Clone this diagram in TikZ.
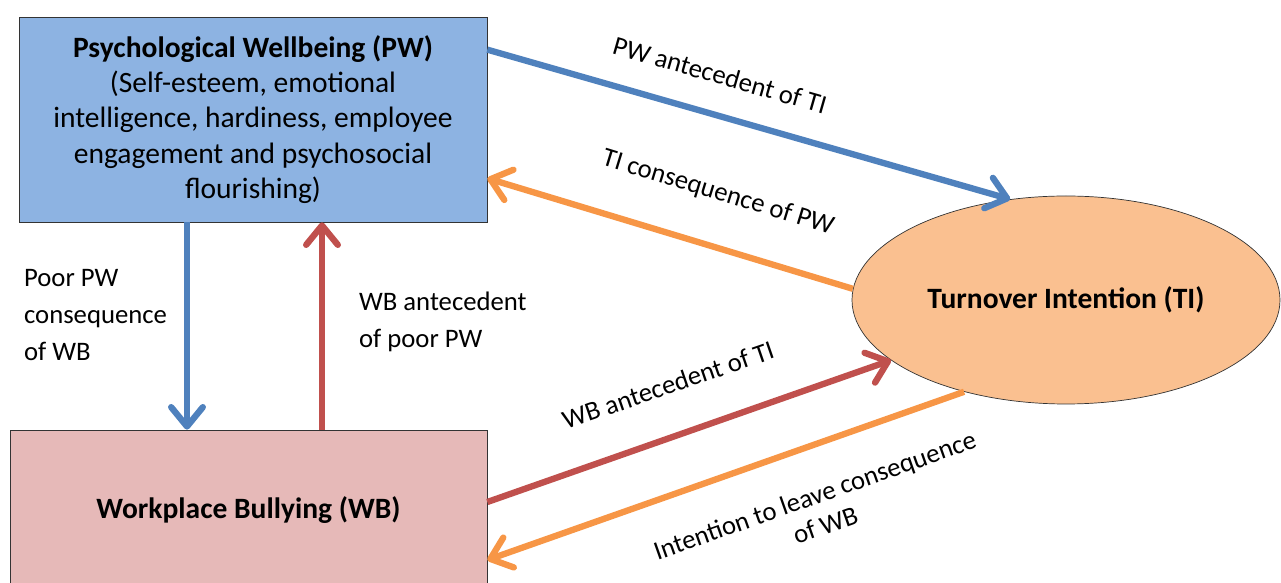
\documentclass[tikz,border=0pt]{standalone}
\usepackage{fontspec}
\setmainfont{Carlito}
\usetikzlibrary{shapes.geometric,arrows.meta}

\definecolor{pwfill}{HTML}{8DB3E2}
\definecolor{wbfill}{HTML}{E6B9B8}
\definecolor{tifill}{HTML}{FAC090}
\definecolor{bluearr}{HTML}{4F81BD}
\definecolor{redarr}{HTML}{C0504D}
\definecolor{orangearr}{HTML}{F79646}

\def\figw{25.62}
\def\figh{11.66}

\begin{document}
\begin{tikzpicture}[every node/.style={align=center, font=\fontsize{16.8}{20}\selectfont},
  box/.style={draw=black!80, thin, inner sep=0pt},
  link/.style={line width=3.6pt, -{Straight Barb[round, length=11pt, width=18pt]}},
  lbl/.style={inner sep=1pt, font=\fontsize{15.2}{21}\selectfont}]
\clip (0, 0) rectangle (\figw, \figh);
\node[box, fill=pwfill, minimum width=9.36cm, minimum height=4.1cm] (pw) at (5.06, 9.27)
  {\textbf{Psychological Wellbeing (PW)}\\(Self-esteem, emotional\\intelligence, hardiness, employee\\engagement and psychosocial\\flourishing)};
\node[box, fill=wbfill, minimum width=9.54cm, minimum height=3.2cm] (wb) at (4.97, 1.46)
  {\textbf{Workplace Bullying (WB)}};
\node[box, ellipse, fill=tifill, minimum width=8.56cm, minimum height=4.16cm] (ti) at (21.32, 5.66)
  {\textbf{Turnover Intention (TI)}};

\coordinate (pwdown) at ([xshift=-1.32cm]pw.south);
\coordinate (wbup) at ([xshift=1.47cm]wb.north);
\draw[link, bluearr] ([yshift=-0.66cm]pw.north east) -- (ti.119);
\draw[link, orangearr] (ti.177) -- ([yshift=0.88cm]pw.south east);
\draw[link, bluearr] (pwdown) -- (pwdown |- wb.north);
\draw[link, redarr] (wbup) -- (wbup |- pw.south);
\draw[link, redarr] ([yshift=0.16cm]wb.east) -- (ti.199);
\draw[link, orangearr] (ti.222) -- ([yshift=-1cm]wb.east);

\node[lbl, rotate=-16] (pwti) at (14.4, 10.16) {PW antecedent of TI};
\node[lbl, rotate=-17] (tipw) at (14.36, 7.8) {TI consequence of PW};
\node[lbl, anchor=west, align=left] (poorpw) at (0.44, 5.36) {Poor PW\\consequence\\of WB};
\node[lbl, anchor=west, align=left] (wbpw) at (7.14, 5.22) {WB antecedent\\of poor PW};
\node[lbl, rotate=19] (wbti) at (13.36, 3.96) {WB antecedent of TI};
\node[lbl, rotate=19.5, font=\fontsize{15.2}{18}\selectfont] (leave) at (16.4, 1.46) {Intention to leave consequence\\of WB};
\end{tikzpicture}
\end{document}
